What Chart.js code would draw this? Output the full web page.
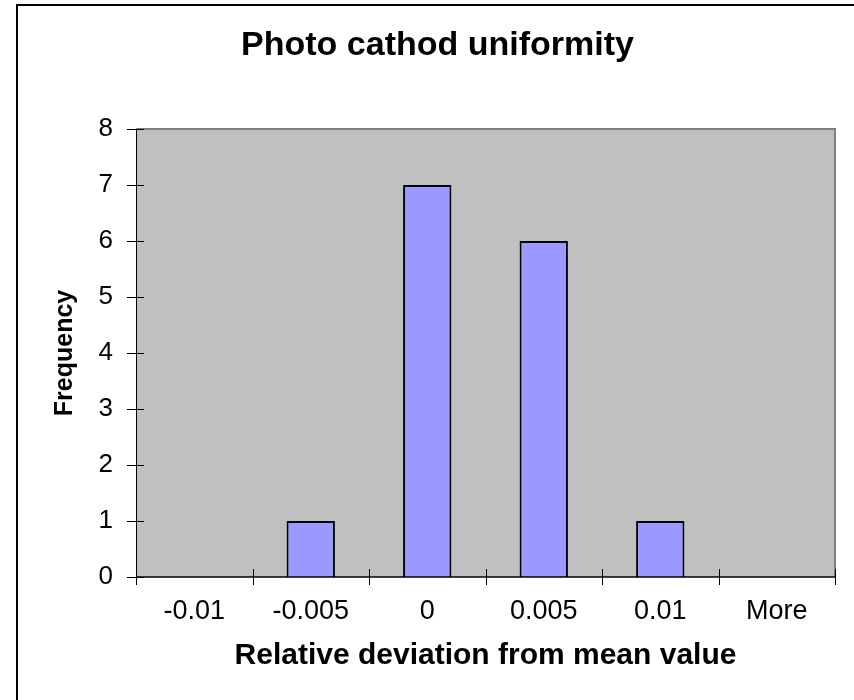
<!DOCTYPE html>
<html lang="en">
<head>
  <meta charset="UTF-8">
  <title>Photo cathod uniformity</title>
  <script src="https://cdn.jsdelivr.net/npm/chart.js"></script>
  <style>
    body {
      margin: 0;
      padding: 0;
      background-color: white;
      overflow: hidden;
    }
    .wrap {
      width: 854px;
      height: 700px;
    }
  </style>
</head>
<body>
  <div class="wrap">
    <canvas id="histChart" width="854" height="700"></canvas>
  </div>
  <script>
    // histogram bins and counts
    const bins = ['-0.01', '-0.005', '0', '0.005', '0.01', 'More'];
    const frequency = [0, 1, 7, 6, 1, 0];
    const yTicks = [0, 1, 2, 3, 4, 5, 6, 7, 8];

    const FONT = "'Liberation Sans', Arial, sans-serif";

    // gray plot area, outer frame and crossing tick marks like the old Excel chart
    const excelLook = {
      id: 'excelLook',
      beforeDraw(chart) {
        const ctx = chart.ctx;
        const a = chart.chartArea;
        ctx.save();
        ctx.fillStyle = 'white';
        ctx.fillRect(0, 0, chart.width, chart.height);
        ctx.strokeStyle = '#000';
        ctx.lineWidth = 2;
        ctx.strokeRect(17, 5, 900, 800);
        ctx.fillStyle = '#C0C0C0';
        ctx.fillRect(a.left, a.top, a.right - a.left, a.bottom - a.top);
        ctx.restore();
      },
      afterDraw(chart) {
        const ctx = chart.ctx;
        const a = chart.chartArea;
        const x = chart.scales.x;
        const y = chart.scales.y;
        ctx.save();
        // top + right border of the plot area
        ctx.strokeStyle = '#808080';
        ctx.lineWidth = 2;
        ctx.beginPath();
        ctx.moveTo(a.left, a.top);
        ctx.lineTo(a.right, a.top);
        ctx.lineTo(a.right, a.bottom);
        ctx.stroke();
        // axes
        ctx.strokeStyle = '#000';
        ctx.lineWidth = 1;
        ctx.beginPath();
        ctx.moveTo(a.left + 0.5, a.top);
        ctx.lineTo(a.left + 0.5, a.bottom);
        ctx.stroke();
        ctx.lineWidth = 1.5;
        ctx.beginPath();
        ctx.moveTo(a.left, a.bottom);
        ctx.lineTo(a.right, a.bottom);
        ctx.stroke();
        // y tick marks
        ctx.lineWidth = 1;
        yTicks.forEach(v => {
          const py = Math.round(y.getPixelForValue(v)) + 0.5;
          ctx.beginPath();
          ctx.moveTo(a.left - 9, py);
          ctx.lineTo(a.left + 8, py);
          ctx.stroke();
        });
        // x tick marks at bin edges
        for (let i = 0; i <= bins.length; i++) {
          const px = Math.round(x.getPixelForValue(i - 0.5)) + 0.5;
          ctx.beginPath();
          ctx.moveTo(px, a.bottom - 8);
          ctx.lineTo(px, a.bottom + 8);
          ctx.stroke();
        }
        ctx.restore();
      }
    };

    new Chart(document.getElementById('histChart'), {
      type: 'bar',
      data: {
        labels: bins,
        datasets: [{
          label: 'Frequency',
          data: frequency,
          backgroundColor: '#9999FF',
          borderColor: '#000000',
          borderWidth: 2,
          categoryPercentage: 1.0,
          barPercentage: 0.415
        }]
      },
      options: {
        responsive: false,
        animation: false,
        layout: {
          padding: { left: 40, right: 19, top: 0, bottom: 0 }
        },
        plugins: {
          legend: { display: false },
          tooltip: { enabled: false },
          title: {
            display: true,
            text: 'Photo cathod uniformity',
            color: '#000',
            font: { family: FONT, size: 34, weight: 'bold' },
            padding: { top: 25, bottom: 63.2 }
          }
        },
        scales: {
          x: {
            offset: true,
            grid: { display: false, drawTicks: false },
            border: { display: false },
            ticks: {
              color: '#000',
              padding: 18,
              font: { family: FONT, size: 27 }
            },
            title: {
              display: true,
              text: 'Relative deviation from mean value',
              color: '#000',
              font: { family: FONT, size: 30, weight: 'bold' },
              padding: { top: 0, bottom: 26 }
            },
            afterFit(scale) { scale.height = 123; }
          },
          y: {
            min: 0,
            max: 8,
            grid: { display: false, drawTicks: false },
            border: { display: false },
            ticks: {
              stepSize: 1,
              color: '#000',
              padding: 23,
              font: { family: FONT, size: 26 }
            },
            afterBuildTicks(scale) {
              scale.ticks = yTicks.map(v => ({ value: v }));
            },
            title: {
              display: true,
              text: 'Frequency',
              color: '#000',
              font: { family: FONT, size: 25, weight: 'bold' },
              padding: { top: 10, bottom: 0 }
            },
            afterFit(scale) { scale.width = 96; }
          }
        }
      },
      plugins: [excelLook]
    });
  </script>
</body>
</html>
